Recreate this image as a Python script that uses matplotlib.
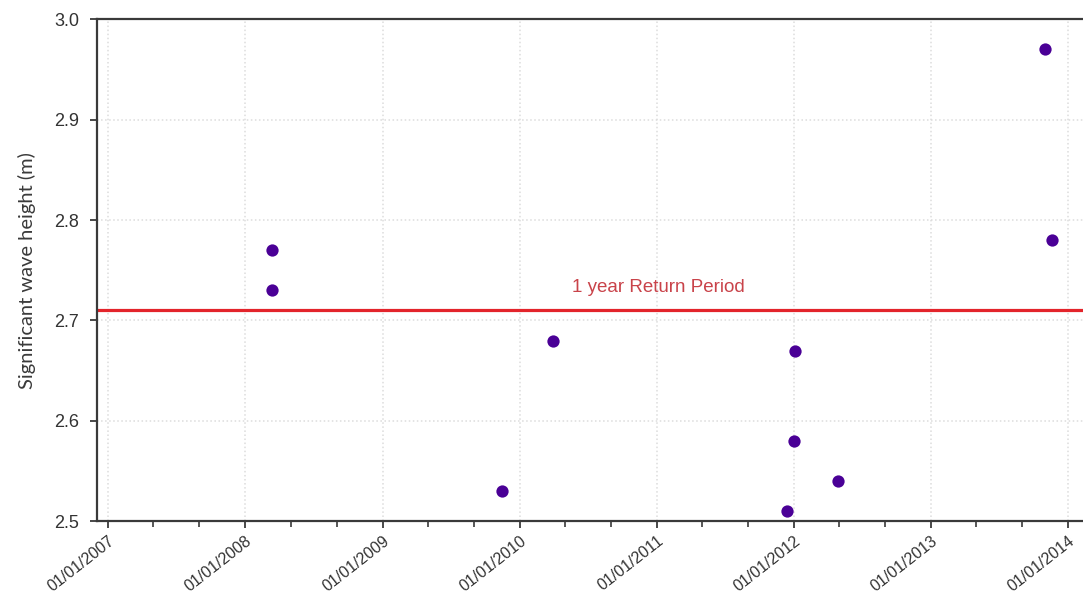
import matplotlib.pyplot as plt
import matplotlib.dates as mdates
import numpy as np
from datetime import datetime

# storm peaks: date and significant wave height (m)
event_dates = ['2008-03-11', '2008-03-11', '2009-11-14', '2010-03-30',
               '2011-12-14', '2012-01-02', '2012-01-04', '2012-04-28',
               '2013-10-31', '2013-11-20']
wave_heights = [2.77, 2.73, 2.53, 2.68, 2.51, 2.58, 2.67, 2.54, 2.97, 2.78]
return_period_1yr = 2.71
year_ticks = list(range(2007, 2015))

dates = [datetime.strptime(d, '%Y-%m-%d') for d in event_dates]

fig = plt.figure(figsize=(10.83, 6.14), dpi=100)
ax = fig.add_axes([0.0896, 0.1507, 0.9104, 0.8183])

ax.axhline(return_period_1yr, color='#e3242b', lw=2.3, zorder=2)
ax.scatter(dates, wave_heights, s=78, color='#4a0096', zorder=3, linewidths=0)
ax.text(datetime(2010, 5, 20), return_period_1yr + 0.014, '1 year Return Period',
        color='#c9434a', fontsize=13.5, family='Liberation Sans', va='bottom')

ax.set_xlim(datetime(2006, 12, 2), datetime(2014, 2, 10))
ax.set_ylim(2.5, 3.0)
ax.set_xticks([datetime(y, 1, 1) for y in year_ticks])
ax.xaxis.set_major_formatter(mdates.DateFormatter('%d/%m/%Y'))
ax.xaxis.set_minor_locator(mdates.MonthLocator(bymonth=[5, 9]))
ax.set_yticks(np.arange(2.5, 3.01, 0.1))
ax.yaxis.set_major_formatter(plt.FormatStrFormatter('%.1f'))

ax.grid(True, which='major', color='#dcdcdc', ls=':', lw=1.1)
ax.set_axisbelow(True)

for side in ['left', 'bottom', 'top']:
    ax.spines[side].set_color('#3a3a3a')
    ax.spines[side].set_linewidth(1.6)
ax.spines['right'].set_visible(False)

ax.tick_params(axis='both', which='major', direction='out', length=5,
               width=1.3, color='#3a3a3a', labelcolor='#333333')
ax.tick_params(axis='y', pad=8)
ax.tick_params(axis='x', which='minor', direction='out', length=4,
               width=1.2, color='#3a3a3a')
for lbl in ax.get_xticklabels():
    lbl.set_rotation(38)
    lbl.set_ha('right')
    lbl.set_va('top')
    lbl.set_rotation_mode('anchor')
    lbl.set_family('Liberation Sans')
    lbl.set_fontsize(11.5)
for lbl in ax.get_yticklabels():
    lbl.set_family('Liberation Sans')
    lbl.set_fontsize(13)

ax.set_ylabel('Significant wave height (m)', fontsize=14.5, color='#3a3a3a',
              family='Lato')
ax.yaxis.set_label_coords(-0.062, 0.5)

fig.savefig('out.png', dpi=100)
